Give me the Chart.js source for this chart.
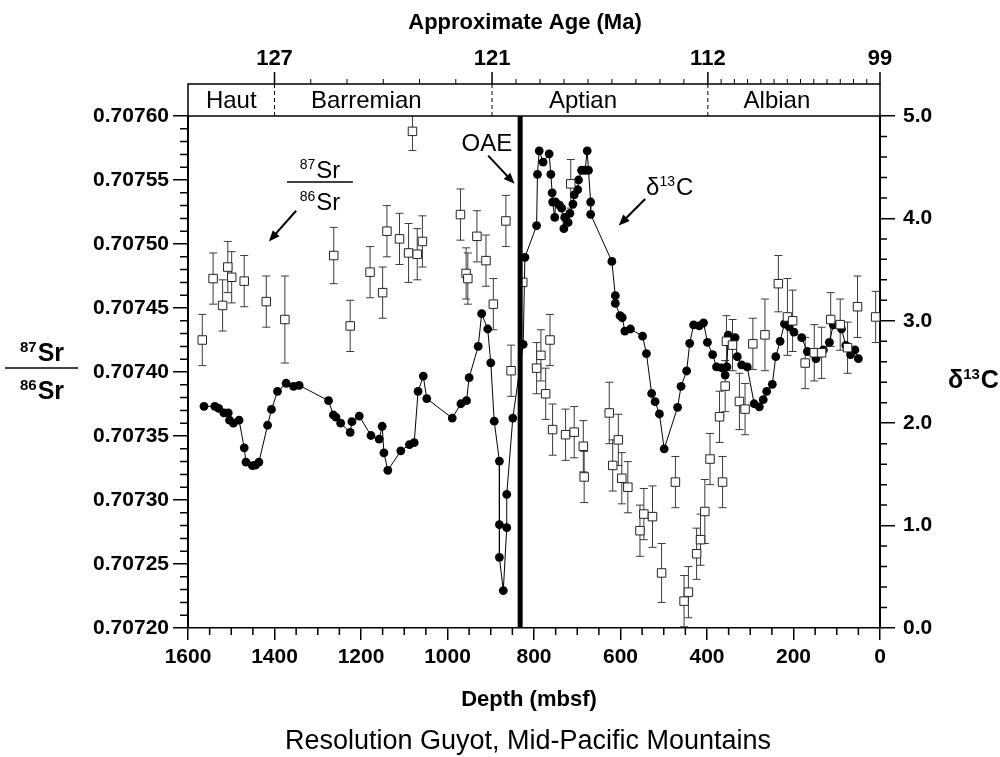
<!DOCTYPE html>
<html>
<head>
<meta charset="utf-8">
<title>Resolution Guyot - Sr and C isotopes</title>
<script src="https://cdn.jsdelivr.net/npm/chart.js@4.4.1/dist/chart.umd.min.js"></script>
<style>
    html, body { margin: 0; padding: 0; background: #fff; }
</style>
</head>
<body>
<canvas id="isoChart" width="1000" height="757"></canvas>
<script>
// Sr isotope samples (depth in mbsf, 87Sr/86Sr, +/- error)
const srDepth = [1567, 1542, 1520, 1508, 1499, 1470, 1419, 1376, 1263, 1225, 1179, 1150, 1140, 1111, 1090, 1081, 1070, 1058,
    970, 957, 953, 932, 911, 894, 865, 853, 826, 794, 784, 773, 763, 757, 727, 715, 707, 686, 684,
    626, 618, 605, 597, 583, 555, 546, 526, 505, 473, 453, 443, 424, 415, 405, 393, 371, 364, 358, 355, 341,
    325, 312, 294, 266, 235, 214, 202, 173, 152, 135, 114, 92, 75, 52, 10];
const srValue = [0.707425, 0.707473, 0.707452, 0.707482, 0.707474, 0.707471, 0.707455, 0.707441, 0.707491, 0.707436, 0.707478, 0.707462, 0.707510, 0.707504, 0.707493, 0.707588, 0.707492, 0.707502,
    0.707523, 0.707477, 0.707473, 0.707506, 0.707487, 0.707453, 0.707518, 0.707401, 0.707470, 0.707403, 0.707413, 0.707383, 0.707425, 0.707355, 0.707351, 0.707547, 0.707353, 0.707342, 0.707318,
    0.707368, 0.707327, 0.707347, 0.707317, 0.707310, 0.707276, 0.707289, 0.707287, 0.707243, 0.707314, 0.707221, 0.707228, 0.707258, 0.707269, 0.707291, 0.707332, 0.707365, 0.707314, 0.707389, 0.707424, 0.707421,
    0.707377, 0.707371, 0.707422, 0.707429, 0.707469, 0.707443, 0.707440, 0.707407, 0.707415, 0.707415, 0.707441, 0.707437, 0.707419, 0.707451, 0.707443];
const srError = [0.00002, 0.00002, 0.00002, 0.00002, 0.00002, 0.00002, 0.00002, 0.000034, 0.000022, 0.00002, 0.00002, 0.00002, 0.00002, 0.00002, 0.000023, 0.000015, 0.00002, 0.00002,
    0.00002, 0.00002, 0.00002, 0.00002, 0.00002, 0.00002, 0.00002, 0.00002, 0, 0.00002, 0.00002, 0.00002, 0.00002, 0.00002, 0.00002, 0.000019, 0.00002, 0.00002, 0.00002,
    0.000024, 0.00002, 0.00002, 0.00002, 0.00002, 0.00002, 0.00002, 0.000024, 0.000023, 0.00002, 0.00002, 0.00002, 0.00002, 0.00002, 0.000025, 0.00002, 0.00002, 0.00002, 0.00002, 0.00002, 0.00002,
    0.000022, 0.00002, 0.00002, 0.000028, 0.000022, 0.00003, 0.000024, 0.00002, 0.000022, 0.00002, 0.000021, 0.00002, 0.00002, 0.000024, 0.00002];

// Carbon isotope samples (depth in mbsf, delta 13C)
const carbonDepth = [1563, 1538, 1529, 1517, 1507, 1504, 1495, 1482, 1470, 1466, 1451, 1444, 1436, 1416, 1407, 1393, 1373, 1356, 1343,
    1275, 1264, 1258, 1247, 1225, 1221, 1204, 1177, 1158, 1151, 1147, 1138, 1108, 1088, 1077, 1068, 1056, 1048,
    989, 969, 956, 950, 929, 921, 907, 900, 892, 880, 880, 880, 871, 863, 863, 849, 825, 821,
    794, 792, 788, 779, 765, 761, 758, 757, 752, 750, 741, 736, 731, 729, 721, 717, 710, 707, 699, 697, 690, 682, 677, 674, 669, 669,
    620, 612, 612, 601, 596, 590, 577, 549, 540, 528, 520, 510, 499, 468, 460, 447, 440, 431, 418, 408, 399, 387, 378, 366, 358, 354, 351, 341, 335, 330, 320, 307,
    291, 279, 270, 262, 249, 241, 231, 221, 210, 199, 181, 168, 148, 131, 117, 108, 89, 79, 68, 58, 50];
const carbonValue = [2.165, 2.165, 2.145, 2.10, 2.10, 2.03, 2.00, 2.03, 1.76, 1.62, 1.585, 1.59, 1.62, 1.98, 2.135, 2.31, 2.39, 2.36, 2.37,
    2.22, 2.08, 2.06, 2.00, 1.91, 2.015, 2.07, 1.88, 1.845, 1.97, 1.71, 1.54, 1.73, 1.79, 1.81, 2.31, 2.46, 2.24,
    2.05, 2.19, 2.22, 2.445, 2.75, 3.07, 2.92, 2.59, 2.02, 1.63, 1.01, 0.69, 0.365, 0.98, 1.305, 2.05, 2.77, 3.62,
    3.93, 4.43, 4.66, 4.55, 4.63, 4.43, 4.25, 4.16, 4.01, 4.16, 4.13, 4.10, 3.90, 4.01, 3.96, 4.05, 4.14, 4.23, 4.28, 4.375, 4.47, 4.47, 4.66, 4.47, 4.16, 4.04,
    3.58, 3.245, 3.17, 3.05, 3.03, 2.90, 2.92, 2.85, 2.68, 2.29, 2.21, 2.09, 1.75, 2.155, 2.36, 2.51, 2.78, 2.96, 2.95, 2.98, 2.79, 2.67, 2.55, 2.54, 2.47, 2.55, 2.86, 2.78, 2.835, 2.65, 2.57, 2.55,
    2.19, 2.16, 2.23, 2.31, 2.38, 2.65, 2.80, 2.97, 2.94, 2.89, 2.835, 2.70, 2.63, 2.715, 2.79, 2.96, 2.92, 2.76, 2.67, 2.715, 2.63];

// Oceanic anoxic event level (mbsf)
const oaeDepth = 832;

// Axis ticks
const depthTicks = [0, 200, 400, 600, 800, 1000, 1200, 1400, 1600];
const srTicks = [0.7072, 0.70725, 0.7073, 0.70735, 0.7074, 0.70745, 0.7075, 0.70755, 0.7076];
const carbonTicks = [0, 1, 2, 3, 4, 5];

// Top age axis and stages
const ageLabels = [127, 121, 112, 99];
const ageDepth = [1400, 897, 398, 0];
const stageNames = ['Haut', 'Barremian', 'Aptian', 'Albian'];
const stageBounds = [1600, 1400, 897, 398, 0];

const FONT = '"Liberation Sans", Arial, Helvetica, sans-serif';

// Function to draw a line with a filled arrow head at the end
function drawArrow(ctx, x1, y1, x2, y2) {
    const ang = Math.atan2(y2 - y1, x2 - x1);
    const len = 11, half = 4.5;
    ctx.beginPath();
    ctx.moveTo(x1, y1);
    ctx.lineTo(x2 - Math.cos(ang) * len * 0.8, y2 - Math.sin(ang) * len * 0.8);
    ctx.lineWidth = 2;
    ctx.stroke();
    ctx.beginPath();
    ctx.moveTo(x2, y2);
    ctx.lineTo(x2 - Math.cos(ang) * len - Math.sin(ang) * half, y2 - Math.sin(ang) * len + Math.cos(ang) * half);
    ctx.lineTo(x2 - Math.cos(ang) * len + Math.sin(ang) * half, y2 - Math.sin(ang) * len - Math.cos(ang) * half);
    ctx.closePath();
    ctx.fill();
}

// Function to draw [prefix] + superscript + base text, starting at x or centred on x
function drawIsotope(ctx, x, y, pre, sup, base, supSize, baseSize, weight, align) {
    const supFont = weight + ' ' + supSize + 'px ' + FONT;
    const baseFont = weight + ' ' + baseSize + 'px ' + FONT;
    ctx.font = baseFont;
    const wPre = pre ? ctx.measureText(pre).width : 0;
    const wBase = ctx.measureText(base).width;
    ctx.font = supFont;
    const wSup = ctx.measureText(sup).width;
    let x0 = x;
    if (align === 'center') x0 = x - (wPre + wSup + wBase + 1) / 2;
    ctx.textAlign = 'left';
    ctx.textBaseline = 'alphabetic';
    if (pre) {
        ctx.font = baseFont;
        ctx.fillText(pre, x0, y);
    }
    ctx.font = supFont;
    ctx.fillText(sup, x0 + wPre, y - baseSize * 0.36);
    ctx.font = baseFont;
    ctx.fillText(base, x0 + wPre + wSup + 1, y);
}

// Plugin: error bars behind the Sr squares
const errorBars = {
    id: 'errorBars',
    beforeDatasetsDraw(chart) {
        const { ctx, chartArea, scales } = chart;
        ctx.save();
        ctx.beginPath();
        ctx.rect(chartArea.left, chartArea.top, chartArea.right - chartArea.left, chartArea.bottom - chartArea.top);
        ctx.clip();
        ctx.strokeStyle = '#3a3a3a';
        ctx.lineWidth = 1;
        for (let i = 0; i < srDepth.length; i++) {
            if (!srError[i]) continue;
            const x = scales.x.getPixelForValue(srDepth[i]);
            const yTop = scales.y.getPixelForValue(srValue[i] + srError[i]);
            const yBot = scales.y.getPixelForValue(srValue[i] - srError[i]);
            ctx.beginPath();
            ctx.moveTo(x, yTop); ctx.lineTo(x, yBot);
            ctx.moveTo(x - 4, yTop); ctx.lineTo(x + 4, yTop);
            ctx.moveTo(x - 4, yBot); ctx.lineTo(x + 4, yBot);
            ctx.stroke();
        }
        ctx.restore();
    }
};

// Plugin: minor ticks, age axis, stage band, titles and labels
const decorations = {
    id: 'decorations',
    afterDraw(chart) {
        const { ctx, chartArea, scales } = chart;
        const { left, right, top, bottom } = chartArea;
        const x = scales.x, y = scales.y, y2 = scales.y2;
        ctx.save();
        ctx.strokeStyle = '#000';
        ctx.fillStyle = '#000';
        ctx.lineWidth = 1.5;

        // minor ticks
        ctx.beginPath();
        for (let d = 50; d < 1600; d += 50) {
            if (d % 200 === 0) continue;
            const px = x.getPixelForValue(d);
            ctx.moveTo(px, bottom); ctx.lineTo(px, bottom + 7);
        }
        for (let k = 1; k < 40; k++) {
            if (k % 5 === 0) continue;
            const py = y.getPixelForValue(0.7072 + k * 0.00001);
            ctx.moveTo(left - 8, py); ctx.lineTo(left, py);
        }
        for (let k = 1; k < 25; k++) {
            if (k % 5 === 0) continue;
            const py = y2.getPixelForValue(k * 0.2);
            ctx.moveTo(right, py); ctx.lineTo(right + 7, py);
        }
        ctx.stroke();

        // stage band
        const bandTop = top - 32;
        ctx.lineWidth = 1.5;
        ctx.strokeRect(left, bandTop, right - left, top - bandTop);
        ctx.setLineDash([4, 3]);
        ctx.lineWidth = 1;
        ctx.beginPath();
        for (let i = 1; i < stageBounds.length - 1; i++) {
            const px = x.getPixelForValue(stageBounds[i]);
            ctx.moveTo(px, bandTop); ctx.lineTo(px, top);
        }
        ctx.stroke();
        ctx.setLineDash([]);
        ctx.font = '24px ' + FONT;
        ctx.textAlign = 'center';
        ctx.textBaseline = 'middle';
        for (let i = 0; i < stageNames.length; i++) {
            const cx = (x.getPixelForValue(stageBounds[i]) + x.getPixelForValue(stageBounds[i + 1])) / 2;
            const shift = i === 0 ? 0 : -17;   // labels sit a little left of centre in the original
            ctx.fillText(stageNames[i], cx + shift, bandTop + 17);
        }

        // age axis ticks (1 Ma minor ticks between labelled ages)
        ctx.lineWidth = 1.5;
        ctx.beginPath();
        for (let i = 0; i < ageLabels.length; i++) {
            const px = x.getPixelForValue(ageDepth[i]);
            ctx.moveTo(px, bandTop); ctx.lineTo(px, bandTop - 12);
        }
        ctx.stroke();
        ctx.lineWidth = 1;
        ctx.beginPath();
        for (let i = 0; i < ageLabels.length - 1; i++) {
            const n = ageLabels[i] - ageLabels[i + 1];
            for (let k = 1; k < n; k++) {
                const d = ageDepth[i] + (ageDepth[i + 1] - ageDepth[i]) * k / n;
                const px = x.getPixelForValue(d);
                ctx.moveTo(px, bandTop); ctx.lineTo(px, bandTop - 5);
            }
        }
        ctx.stroke();
        ctx.font = 'bold 22px ' + FONT;
        ctx.textBaseline = 'middle';
        for (let i = 0; i < ageLabels.length; i++) {
            ctx.fillText(String(ageLabels[i]), x.getPixelForValue(ageDepth[i]), 59);
        }
        ctx.fillText('Approximate Age (Ma)', 525, 23);

        // bottom titles
        ctx.fillText('Depth (mbsf)', 529, 700);
        ctx.font = '27px ' + FONT;
        ctx.fillText('Resolution Guyot, Mid-Pacific Mountains', 528, 742);

        // left axis title (fraction)
        drawIsotope(ctx, 42, 361, '', '87', 'Sr', 15, 25, 'bold', 'center');
        ctx.lineWidth = 1.5;
        ctx.beginPath();
        ctx.moveTo(5, 368); ctx.lineTo(78, 368);
        ctx.stroke();
        drawIsotope(ctx, 42, 399, '', '86', 'Sr', 15, 25, 'bold', 'center');

        // right axis title
        drawIsotope(ctx, 948, 388, 'δ', '13', 'C', 15, 25, 'bold', 'left');

        // in-plot annotations
        ctx.font = '24px ' + FONT;
        ctx.textAlign = 'center';
        ctx.fillText('OAE', x.getPixelForValue(909), y.getPixelForValue(0.707573));
        drawArrow(ctx, x.getPixelForValue(906), y.getPixelForValue(0.707569),
            x.getPixelForValue(845), y.getPixelForValue(0.707547));

        const sx = x.getPixelForValue(1295), sy = y.getPixelForValue(0.70755);
        drawIsotope(ctx, sx, sy - 2, '', '87', 'Sr', 14, 24, 'normal', 'center');
        ctx.lineWidth = 1.5;
        ctx.beginPath();
        ctx.moveTo(sx - 33, sy + 2); ctx.lineTo(sx + 33, sy + 2);
        ctx.stroke();
        drawIsotope(ctx, sx, sy + 30, '', '86', 'Sr', 14, 24, 'normal', 'center');
        drawArrow(ctx, x.getPixelForValue(1350), y.getPixelForValue(0.707526),
            x.getPixelForValue(1413), y.getPixelForValue(0.707502));

        drawIsotope(ctx, x.getPixelForValue(541), y2.getPixelForValue(4.23), 'δ', '13', 'C', 14, 24, 'normal', 'left');
        drawArrow(ctx, x.getPixelForValue(543), y2.getPixelForValue(4.19),
            x.getPixelForValue(604), y2.getPixelForValue(3.93));
        ctx.restore();
    }
};

// Function to Initialize the Chart
function initChart() {
    const ctx = document.getElementById('isoChart').getContext('2d');
    const tickFont = { family: FONT, size: 21, weight: 'bold' };
    new Chart(ctx, {
        data: {
            datasets: [
                {
                    type: 'line',
                    label: 'OAE',
                    data: [{ x: oaeDepth, y: 0.7072 }, { x: oaeDepth, y: 0.7076 }],
                    yAxisID: 'y',
                    borderColor: '#000',
                    borderWidth: 5,
                    pointRadius: 0,
                    order: 0
                },
                {
                    type: 'scatter',
                    label: '87Sr/86Sr',
                    data: srDepth.map((d, i) => ({ x: d, y: srValue[i] })),
                    yAxisID: 'y',
                    pointStyle: 'rect',
                    pointRadius: 6,
                    pointBackgroundColor: '#fff',
                    pointBorderColor: '#222',
                    pointBorderWidth: 1,
                    order: 1
                },
                {
                    type: 'line',
                    label: 'δ13C',
                    data: carbonDepth.map((d, i) => ({ x: d, y: carbonValue[i] })),
                    yAxisID: 'y2',
                    borderColor: '#000',
                    borderWidth: 1,
                    pointRadius: 4.4,
                    pointBackgroundColor: '#000',
                    pointBorderWidth: 0,
                    order: 2
                }
            ]
        },
        options: {
            responsive: false,
            animation: false,
            layout: { padding: { top: 116 } },
            plugins: { legend: { display: false }, tooltip: { enabled: false } },
            scales: {
                x: {
                    type: 'linear',
                    reverse: true,
                    min: 0,
                    max: 1600,
                    afterBuildTicks: (s) => { s.ticks = depthTicks.map(v => ({ value: v })); },
                    afterFit: (s) => { s.height = 129; },
                    ticks: { font: tickFont, color: '#000', padding: 5, maxRotation: 0, autoSkip: false, callback: (v) => String(v) },
                    grid: { drawOnChartArea: false, tickLength: 12, color: '#000', lineWidth: 1.5 },
                    border: { color: '#000', width: 1.5 }
                },
                y: {
                    position: 'left',
                    min: 0.7072,
                    max: 0.7076,
                    afterBuildTicks: (s) => { s.ticks = srTicks.map(v => ({ value: v })); },
                    afterFit: (s) => { s.width = 188; },
                    ticks: { font: tickFont, color: '#000', padding: 4, callback: (v) => v.toFixed(5) },
                    grid: { drawOnChartArea: false, tickLength: 15, color: '#000', lineWidth: 1.5 },
                    border: { color: '#000', width: 2 }
                },
                y2: {
                    position: 'right',
                    min: 0,
                    max: 5,
                    afterBuildTicks: (s) => { s.ticks = carbonTicks.map(v => ({ value: v })); },
                    afterFit: (s) => { s.width = 120; },
                    ticks: { font: tickFont, color: '#000', padding: 8, callback: (v) => v.toFixed(1) },
                    grid: { drawOnChartArea: false, tickLength: 15, color: '#000', lineWidth: 1.5 },
                    border: { color: '#000', width: 2 }
                }
            }
        },
        plugins: [errorBars, decorations]
    });
}

window.onload = initChart;
</script>
</body>
</html>
